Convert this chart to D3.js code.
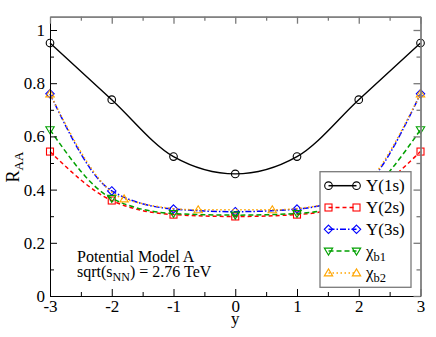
<!DOCTYPE html>
<html>
<head>
<meta charset="utf-8">
<script src="https://cdn.jsdelivr.net/npm/d3@7"></script>
<style>
  body { margin: 0; background: #fff; }
  svg text { font-family: "Liberation Serif", "DejaVu Serif", serif !important; }
</style>
</head>
<body>
<div id="chart-area"></div>
<script>
// SVG Size
let width = 436,
	height = 337;

// data
let rapidity = [-3, -2, -1, 0, 1, 2, 3];
let ups1s = [0.951, 0.738, 0.524, 0.459, 0.524, 0.738, 0.951];
let ups2s = [0.543, 0.359, 0.306, 0.299, 0.306, 0.359, 0.543];
let ups3s = [0.76, 0.395, 0.327, 0.317, 0.327, 0.395, 0.76];
let chib1 = [0.625, 0.367, 0.31, 0.304, 0.31, 0.367, 0.625];
let rapidityB2 = [-3, -1.8, -0.6, 0.6, 1.8, 3];
let chib2 = [0.76, 0.365, 0.324, 0.324, 0.365, 0.76];

let xTicks = [-3, -2, -1, 0, 1, 2, 3];
let xMinor = [-2.5, -1.5, -0.5, 0.5, 1.5, 2.5];
let yTicks = [0, 0.2, 0.4, 0.6, 0.8, 1];
let yMinor = [0.1, 0.3, 0.5, 0.7, 0.9];

let series = [
	{name: "Y(1s)", sub: "", xs: rapidity, ys: ups1s, color: "#000000", dash: null, marker: "circle"},
	{name: "Y(2s)", sub: "", xs: rapidity, ys: ups2s, color: "#ff0000", dash: "4,3", marker: "square"},
	{name: "Y(3s)", sub: "", xs: rapidity, ys: ups3s, color: "#0000ff", dash: "6,2,1.5,2", marker: "diamond"},
	{name: "χ", sub: "b1", xs: rapidity, ys: chib1, color: "#00a000", dash: "5,3", marker: "down"},
	{name: "χ", sub: "b2", xs: rapidityB2, ys: chib2, color: "#ffa500", dash: "1.5,2.5", marker: "up"}
];

let padLeft = 50, padRight = 420.5, padTop = 16.7, padBottom = 296;

let svg = d3.select("#chart-area").append("svg")
	.attr("width", width)
	.attr("height", height);

let XScale = d3.scaleLinear().domain([-3, 3]).range([padLeft, padRight]);
let YScale = d3.scaleLinear().domain([0, 1.05]).range([padBottom, padTop]);

// markers
function drawMarker(g, type, x, y, color) {
	if (type == "circle") {
		g.append("circle").attr("cx", x).attr("cy", y).attr("r", 3.8)
			.attr("fill", "none").attr("stroke", color).attr("stroke-width", 1.1);
	} else if (type == "square") {
		g.append("rect").attr("x", x - 3.5).attr("y", y - 3.5).attr("width", 7).attr("height", 7)
			.attr("fill", "none").attr("stroke", color).attr("stroke-width", 1.1);
	} else {
		let pts;
		if (type == "diamond") pts = [[0, -4.2], [4.2, 0], [0, 4.2], [-4.2, 0]];
		if (type == "down") pts = [[-4.2, -3], [4.2, -3], [0, 4]];
		if (type == "up") pts = [[-4.2, 3], [4.2, 3], [0, -4]];
		g.append("polygon")
			.attr("points", pts.map(p => (x + p[0]) + "," + (y + p[1])).join(" "))
			.attr("fill", "none").attr("stroke", color).attr("stroke-width", 1.1);
	}
}

let line = d3.line()
	.x(d => XScale(d[0]))
	.y(d => YScale(d[1]))
	.curve(d3.curveMonotoneX);

let plot = svg.append("g");
series.forEach(s => {
	let pts = s.xs.map((x, i) => [x, s.ys[i]]);
	plot.append("path")
		.attr("d", line(pts))
		.attr("fill", "none")
		.attr("stroke", s.color)
		.attr("stroke-width", s.dash ? 1.5 : 1.4)
		.attr("stroke-dasharray", s.dash);
	pts.forEach(p => drawMarker(plot, s.marker, XScale(p[0]), YScale(p[1]), s.color));
});

//The Axis
function fmt(d) { return String(+d.toFixed(1)); }

svg.append("g")
	.attr("transform", "translate(0," + padBottom + ")")
	.call(d3.axisBottom(XScale).tickValues(xTicks).tickSize(-7).tickSizeOuter(0).tickPadding(4).tickFormat(fmt));
svg.append("g")
	.attr("transform", "translate(0," + padBottom + ")")
	.call(d3.axisBottom(XScale).tickValues(xMinor).tickSize(-4).tickSizeOuter(0).tickFormat(""));
svg.append("g")
	.attr("transform", "translate(" + padLeft + ",0)")
	.call(d3.axisLeft(YScale).tickValues(yTicks).tickSize(-7).tickSizeOuter(0).tickPadding(5).tickFormat(fmt));
svg.append("g")
	.attr("transform", "translate(" + padLeft + ",0)")
	.call(d3.axisLeft(YScale).tickValues(yMinor).tickSize(-4).tickSizeOuter(0).tickFormat(""));

// top and right frame
let grey = "#7a7a7a";
svg.append("g").attr("class", "frame")
	.attr("transform", "translate(0," + padTop + ")")
	.call(d3.axisTop(XScale).tickValues(xTicks).tickSize(-7).tickSizeOuter(0).tickFormat(""));
svg.append("g").attr("class", "frame")
	.attr("transform", "translate(0," + padTop + ")")
	.call(d3.axisTop(XScale).tickValues(xMinor).tickSize(-4).tickSizeOuter(0).tickFormat(""));
svg.append("g").attr("class", "frame")
	.attr("transform", "translate(" + padRight + ",0)")
	.call(d3.axisRight(YScale).tickValues(yTicks).tickSize(-7).tickSizeOuter(0).tickFormat(""));
svg.append("g").attr("class", "frame")
	.attr("transform", "translate(" + padRight + ",0)")
	.call(d3.axisRight(YScale).tickValues(yMinor).tickSize(-4).tickSizeOuter(0).tickFormat(""));
svg.selectAll(".frame path, .frame line").attr("stroke", grey).attr("stroke-width", 1.3);

svg.selectAll(".tick text")
	.attr("font-size", 17)
	.attr("fill", "#000");

// axis titles
svg.append("text")
	.attr("x", (padLeft + padRight) / 2)
	.attr("y", 324)
	.attr("text-anchor", "middle")
	.attr("font-size", 17)
	.text("y");

let ylab = svg.append("text")
	.attr("transform", "translate(19,167) rotate(-90)")
	.attr("text-anchor", "middle")
	.attr("font-size", 18);
ylab.append("tspan").text("R");
ylab.append("tspan").attr("dy", 4).attr("font-size", 13).text("AA");

// annotation
svg.append("text")
	.attr("x", 77).attr("y", 262)
	.attr("font-size", 16)
	.text("Potential Model A");
let sq = svg.append("text")
	.attr("x", 77).attr("y", 277)
	.attr("font-size", 16);
sq.append("tspan").text("sqrt(s");
sq.append("tspan").attr("dy", 4).attr("font-size", 12).text("NN");
sq.append("tspan").attr("dy", -4).text(") = 2.76 TeV");

// legend
let legend = svg.append("g");
legend.append("rect")
	.attr("x", 320).attr("y", 171.7)
	.attr("width", 91).attr("height", 115.6)
	.attr("fill", "#fff")
	.attr("stroke", grey)
	.attr("stroke-width", 1.3);

series.forEach((s, i) => {
	let yy = 185.7 + i * 21.8;
	legend.append("line")
		.attr("x1", 328.5).attr("x2", 356.5)
		.attr("y1", yy).attr("y2", yy)
		.attr("stroke", s.color)
		.attr("stroke-width", 1.5)
		.attr("stroke-dasharray", s.dash);
	drawMarker(legend, s.marker, 328.5, yy, s.color);
	drawMarker(legend, s.marker, 356.5, yy, s.color);
	let t = legend.append("text")
		.attr("x", 366).attr("y", yy + 5.5)
		.attr("font-size", 17);
	t.append("tspan").text(s.name);
	if (s.sub) t.append("tspan").attr("dy", 4).attr("font-size", 12.5).text(s.sub);
});
</script>
</body>
</html>
